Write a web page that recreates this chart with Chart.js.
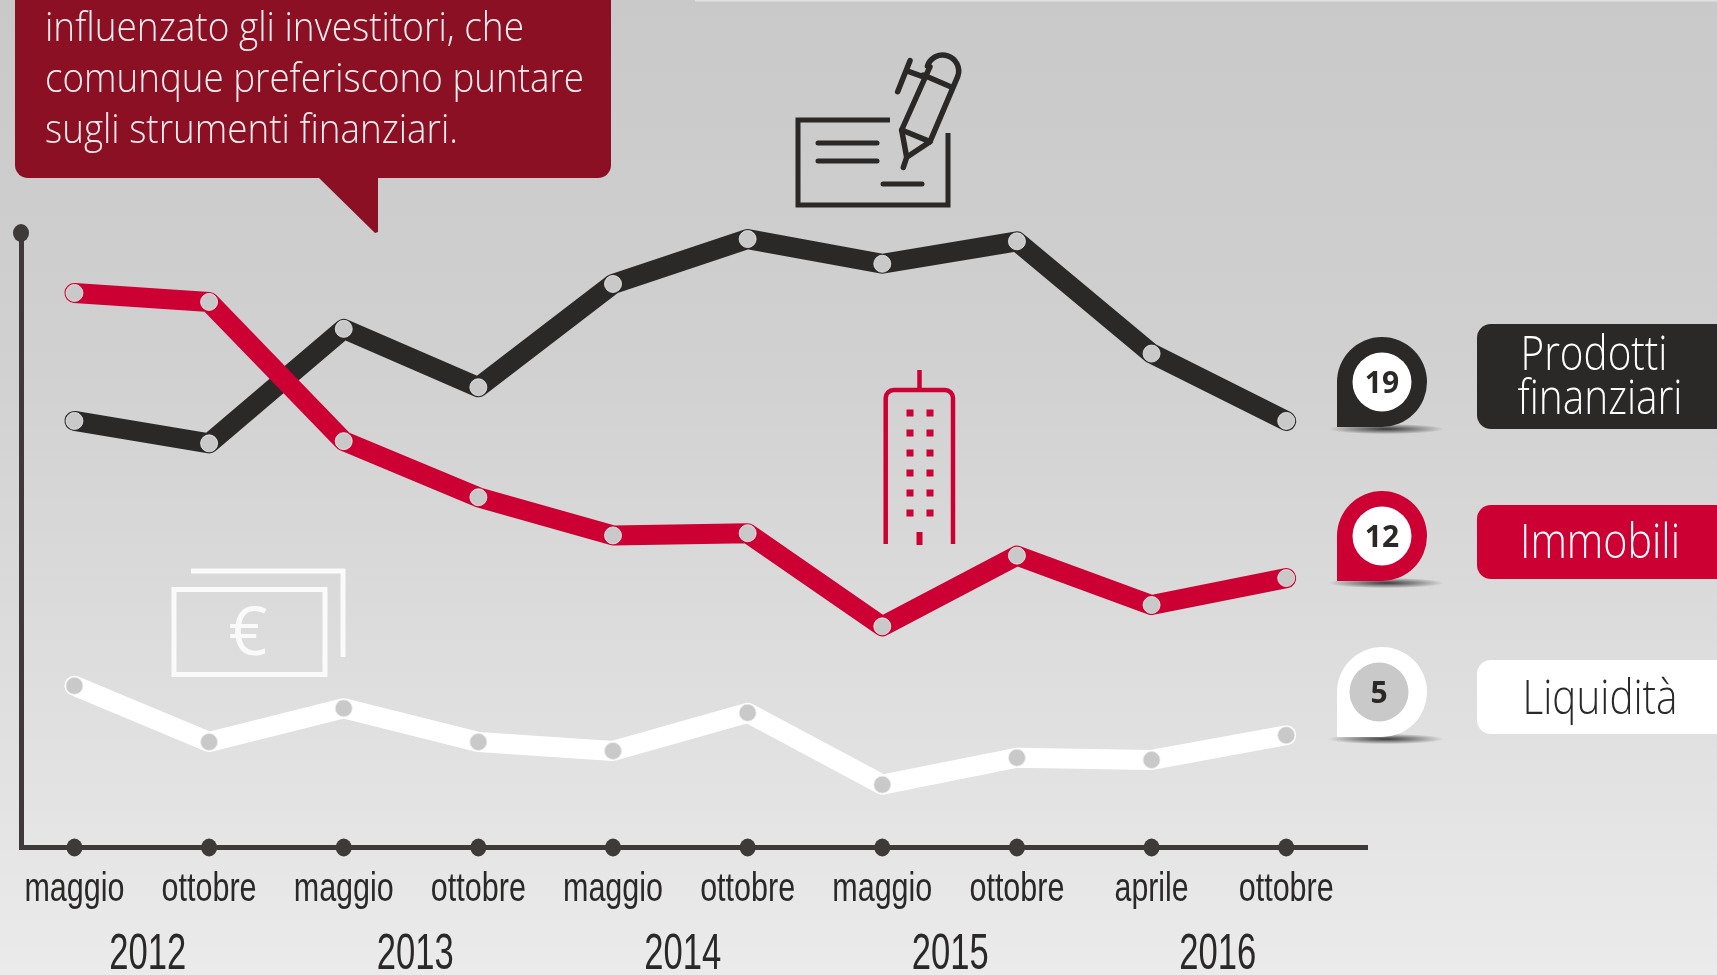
<!DOCTYPE html>
<html><head><meta charset="utf-8">
<style>html,body{margin:0;padding:0;width:1717px;height:975px;overflow:hidden;background:#d8d8d8}
#wrap{position:absolute;left:0;top:0;width:1717px;height:975px}</style>
<script src="https://cdn.jsdelivr.net/npm/chart.js@4"></script>
</head><body><div id="wrap"><canvas id="c" width="1717" height="975"></canvas></div>
<script>
const months = ["maggio","ottobre","maggio","ottobre","maggio","ottobre","maggio","ottobre","aprile","ottobre"];
const years = ["2012","2013","2014","2015","2016"];
const prodottiFinanziari = [19,18,23.1,20.5,25.1,27.1,26,27,22,19];
const immobili = [24.7,24.3,18.1,15.6,13.9,14,9.85,13,10.8,12];
const liquidita = [7.2,4.7,6.2,4.7,4.3,6,2.8,4,3.9,5];
const calloutLines = ["influenzato gli investitori, che","comunque preferiscono puntare","sugli strumenti finanziari."];
const BLACK="#2b2828", RED="#cc0033", WHITE="#ffffff", AXIS="#3e3a39", DOT="#c9c9c9", WINE="#8c1024";
const pts = a => a.map((v,i)=>({x:i,y:v}));
const SANS='"Open Sans"', NARROW='"Liberation Sans"';
const tickWidths = {maggio:100,ottobre:95,aprile:74};

function rr(ctx,x,y,w,h,r){ctx.beginPath();ctx.roundRect(x,y,w,h,r);}
function fitText(ctx,t,x,y,font,color,width,align){ctx.font=font;ctx.fillStyle=color;ctx.textAlign=align||'left';ctx.textBaseline='alphabetic';ctx.fillText(t,x,y,width);}

function pin(ctx,cx,cy,color,inner,label,ix){
  const r=45;
  ctx.save();ctx.translate(cx+4,cy+r+2);ctx.scale(1,0.09);
  const g=ctx.createRadialGradient(0,0,0,0,0,58);g.addColorStop(0,'rgba(30,30,30,.85)');g.addColorStop(1,'rgba(30,30,30,0)');
  ctx.fillStyle=g;ctx.beginPath();ctx.arc(0,0,58,0,Math.PI*2);ctx.fill();ctx.restore();
  ctx.fillStyle=color;ctx.beginPath();ctx.arc(cx,cy,r,Math.PI,Math.PI*0.5);ctx.lineTo(cx-r,cy+r);ctx.closePath();ctx.fill();
  ctx.fillStyle=inner;ctx.beginPath();ctx.arc(ix,cy,29.5,0,Math.PI*2);ctx.fill();
  fitText(ctx,label,ix,cy+11,'bold 30px '+SANS,BLACK,undefined,'center');
}

const art={id:'art',
 beforeDraw(ch){const c=ch.ctx;
  const g=c.createLinearGradient(0,0,0,975);
  g.addColorStop(0,'#c9c9c9');g.addColorStop(.35,'#d0d0d0');g.addColorStop(.7,'#dedede');g.addColorStop(1,'#ebebeb');
  c.fillStyle=g;c.fillRect(0,0,1717,975);
  c.fillStyle='#e2e2e2';c.fillRect(695,0,1022,1.5);
  // callout
  c.fillStyle=WINE;rr(c,15,-30,596,208,13);c.fill();
  c.beginPath();c.moveTo(317,176);c.lineTo(375,233);c.lineTo(378,232);c.lineTo(378,176);c.closePath();c.fill();
  const ys=[41,92,143],ws=[479,539,413];
  calloutLines.forEach((t,i)=>fitText(c,t,45,ys[i],'300 41px '+SANS,'#f6eef0',ws[i]));
  // cheque icon
  c.strokeStyle=BLACK;c.lineWidth=5;c.lineCap='butt';c.lineJoin='miter';
  c.beginPath();c.moveTo(890,120);c.lineTo(798,120);c.lineTo(798,205);c.lineTo(948,205);c.lineTo(948,133);c.stroke();
  c.lineCap='round';c.lineWidth=5;
  [[818,877,143],[818,877,161],[883,922,184]].forEach(l=>{c.beginPath();c.moveTo(l[0],l[2]);c.lineTo(l[1],l[2]);c.stroke();});
  const P=(x,y)=>[760+x/3,30+y/3];
  c.lineWidth=5.5;c.lineJoin='round';
  c.beginPath();c.moveTo(...P(430,412));c.lineTo(...P(440,382));c.lineTo(...P(425,300));c.lineTo(...P(510,110));
  c.arc(...P(548,123),16,Math.PI*1.1,Math.PI*0.12);
  c.lineTo(...P(510,335));c.lineTo(...P(440,382));c.stroke();
  c.beginPath();c.moveTo(...P(425,300));c.lineTo(...P(510,335));c.moveTo(...P(490,135));c.lineTo(...P(572,170));
  c.moveTo(...P(413,185));c.lineTo(...P(450,92));c.moveTo(...P(447,125));c.lineTo(...P(495,142));c.stroke();
  // euro icon
  c.strokeStyle='#fafafa';c.lineWidth=5;c.lineCap='butt';c.lineJoin='miter';
  c.strokeRect(174,589.5,151,85);
  c.beginPath();c.moveTo(191,571);c.lineTo(343,571);c.lineTo(343,657);c.stroke();
  fitText(c,'€',248,655,'400 68px '+SANS,'#fafafa',undefined,'center');
  // building icon
  c.strokeStyle=RED;c.lineWidth=4.5;
  c.beginPath();c.moveTo(885.7,544);c.lineTo(885.7,398);c.arcTo(885.7,390,893,390,8);c.lineTo(945,390);c.arcTo(953,390,953,398,8);c.lineTo(953,544);c.stroke();
  c.beginPath();c.moveTo(919.5,370);c.lineTo(919.5,390);c.stroke();
  c.fillStyle=RED;
  [413,433,453,473,493,513].forEach(y=>[910,930].forEach(x=>c.fillRect(x-3.5,y-3.5,7,7)));
  c.fillRect(916.5,532,6,13);
  // legend
  c.fillStyle=BLACK;rr(c,1477,324,260,105,14);c.fill();
  c.fillStyle=RED;rr(c,1477,505,260,74,14);c.fill();
  c.fillStyle='#fff';rr(c,1477,660,260,74,14);c.fill();
  fitText(c,'Prodotti',1594,370,'300 48px '+SANS,'#fff',147,'center');
  fitText(c,'finanziari',1600,414,'300 48px '+SANS,'#fff',165,'center');
  fitText(c,'Immobili',1600,558,'300 48px '+SANS,'#fff',160,'center');
  fitText(c,'Liquidità',1600,714,'300 48px '+SANS,BLACK,155,'center');
  pin(c,1382,382,BLACK,'#fff','19',1382);
  pin(c,1382,536,RED,'#fff','12',1382);
  pin(c,1382,692,'#fff','#c9c9c9','5',1379);
  // condense the axis labels the library draws
  ch.scales.x.getLabelItems(ch.chartArea).forEach(it=>{it.options.maxWidth=tickWidths[it.label];});
 },
 afterDraw(ch){const c=ch.ctx,x=ch.scales.x,y=ch.scales.y;
  c.fillStyle=AXIS;
  months.forEach((m,i)=>{c.beginPath();c.ellipse(x.getPixelForValue(i),y.getPixelForValue(0),8,9,0,0,Math.PI*2);c.fill();});
  c.beginPath();c.ellipse(x.left,y.top,8,9,0,0,Math.PI*2);c.fill();
  years.forEach((t,i)=>fitText(c,t,x.getPixelForValue(i*2+.5)+6-1.8*i,969,'50px '+NARROW,BLACK,77,'center'));
 }};

new Chart(document.getElementById('c'),{
 type:'line',
 data:{datasets:[
  {label:'Immobili',data:pts(immobili),borderColor:RED,backgroundColor:RED},
  {label:'Prodotti finanziari',data:pts(prodottiFinanziari),borderColor:BLACK,backgroundColor:BLACK},
  {label:'Liquidità',data:pts(liquidita),borderColor:WHITE,backgroundColor:WHITE}
 ].map(d=>({...d,borderWidth:20,tension:0,fill:false,clip:false,borderCapStyle:'round',borderJoinStyle:'round',
   pointRadius:8.5,pointBackgroundColor:DOT,pointBorderColor:'rgba(235,235,235,.8)',pointBorderWidth:1}))},
 options:{responsive:false,animation:false,devicePixelRatio:1,
  layout:{padding:{left:21,right:350,top:233,bottom:0}},
  plugins:{legend:{display:false},title:{display:false},tooltip:{enabled:false}},
  scales:{
   x:{type:'linear',min:-0.397,max:9.6,
      afterBuildTicks(s){s.ticks=months.map((m,i)=>({value:i}));},
      afterFit(s){s.height=127.5;s.paddingLeft=0;s.paddingRight=0;},
      grid:{display:false},border:{display:true,color:AXIS,width:5},
      ticks:{autoSkip:false,maxRotation:0,padding:10,color:BLACK,font:{family:'Liberation Sans',size:40},callback:v=>months[v]}},
   y:{min:0,max:27.37,afterFit(s){s.width=0;},
      grid:{display:false},border:{display:true,color:AXIS,width:5},ticks:{display:false}}
  }},
 plugins:[art]
});
</script></body></html>
